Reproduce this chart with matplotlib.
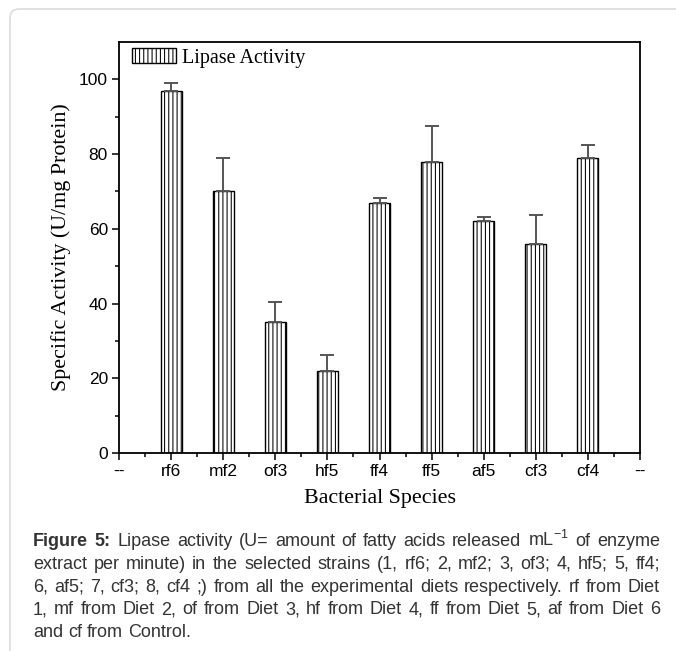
import matplotlib
matplotlib.use("Agg")
import numpy as np
import matplotlib.pyplot as plt
from matplotlib.patches import FancyBboxPatch, Patch

species = ["rf6", "mf2", "of3", "hf5", "ff4", "ff5", "af5", "cf3", "cf4"]
activity = [97, 70, 35, 22, 67, 78, 62, 56, 79]
err_up = [2.1, 9.0, 5.3, 4.1, 1.2, 9.6, 1.2, 7.6, 3.5]
tick_labels = ["--"] + species + ["--"]

caption = [
    [("Figure 5:", True), ("Lipase activity (U= amount of fatty acids released mL$^{-1}$ of enzyme", False)],
    [("extract per minute) in the selected strains (1, rf6; 2, mf2; 3, of3; 4, hf5; 5, ff4;", False)],
    [("6, af5; 7, cf3; 8, cf4 ;) from all the experimental diets respectively. rf from Diet", False)],
    [("1, mf from Diet 2, of from Diet 3, hf from Diet 4, ff from Diet 5, af from Diet 6", False)],
    [("and cf from Control.", False)],
]

plt.rcParams["hatch.linewidth"] = 0.75
plt.rcParams["mathtext.default"] = "regular"
serif = ["Liberation Serif", "DejaVu Serif"]
sans = ["Liberation Sans", "DejaVu Sans"]

W, H, DPI = 676, 651, 100
fig = plt.figure(figsize=(W / DPI, H / DPI), dpi=DPI)

# grey page frame
frame = FancyBboxPatch((10, -60), 720, 651 - 9 + 60, boxstyle="round,pad=0,rounding_size=9",
                       transform=None, fill=False, edgecolor="#dcdcdc", linewidth=1.2)
fig.patches.append(frame)

ax = fig.add_axes([119 / W, (H - 453) / H, (640 - 119) / W, (453 - 42) / H])

x = np.arange(1, len(species) + 1)
ax.bar(x, activity, width=0.4, color="white", edgecolor="black", linewidth=1.0,
       hatch="||||", zorder=2)
ax.errorbar(x, activity, yerr=[np.zeros(len(x)), err_up], fmt="none", ecolor="#555555",
            elinewidth=1.4, capsize=5, capthick=1.4, zorder=3)

ax.set_xlim(0, 10)
ax.set_ylim(0, 110)
ax.set_xticks(np.arange(0, 11))
ax.set_xticklabels(tick_labels, family=sans, fontsize=12.5)
ax.set_xticks(np.arange(0.5, 10, 1), minor=True)
ax.set_yticks(np.arange(0, 101, 20))
ax.set_yticks(np.arange(10, 110, 20), minor=True)
for lab in ax.get_yticklabels():
    lab.set_family(sans)
    lab.set_fontsize(12.5)
ax.tick_params(which="major", direction="out", length=5, width=1.1, pad=3)
ax.tick_params(which="minor", direction="out", length=3, width=1.1)
for s in ax.spines.values():
    s.set_linewidth(1.3)

ax.set_xlabel("Bacterial Species", family=serif, fontsize=15.8, labelpad=7)
ax.set_ylabel("Specific Activity (U/mg Protein)", family=serif, fontsize=15.8, labelpad=6)

handle = Patch(facecolor="white", edgecolor="black", hatch="||||", linewidth=1.0)
ax.legend([handle], ["Lipase Activity"], loc="upper left", bbox_to_anchor=(0.025, 0.985),
          frameon=False, prop={"family": serif, "size": 14.5}, handlelength=2.2,
          handleheight=0.75, handletextpad=0.3, borderpad=0, borderaxespad=0)

# justified caption
fig.canvas.draw()
renderer = fig.canvas.get_renderer()
cap_size = 13
left, right = 33, 660
base0, step = 546, 22.75


def measure(word, bold):
    t = fig.text(0, 0, word, fontsize=cap_size, family=sans,
                 fontweight="bold" if bold else "normal")
    w = t.get_window_extent(renderer).width
    t.remove()
    return w


space_w = measure("a a", False) - measure("aa", False)
for i, line in enumerate(caption):
    words = []
    for chunk, bold in line:
        for w in chunk.split(" "):
            words.append((w, bold))
    widths = [measure(w, b) for w, b in words]
    last = i == len(caption) - 1
    gap = space_w if last else (right - left - sum(widths)) / (len(words) - 1)
    xp = left
    yp = H - (base0 + step * i)
    for (w, b), wd in zip(words, widths):
        fig.text(xp / W, yp / H, w, fontsize=cap_size, family=sans, color="#333333",
                 fontweight="bold" if b else "normal", va="baseline", ha="left")
        xp += wd + gap

fig.savefig("out.png", dpi=DPI)
